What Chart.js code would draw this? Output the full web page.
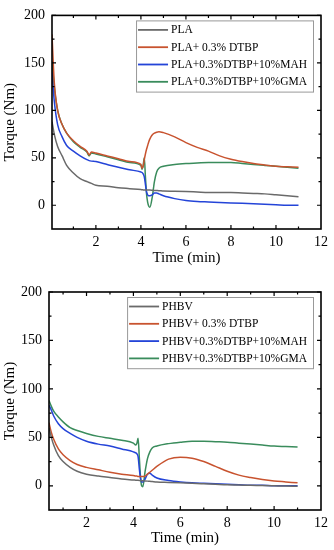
<!DOCTYPE html>
<html>
<head>
<meta charset="utf-8">
<script src="https://cdn.jsdelivr.net/npm/chart.js@4"></script>
<style>
  html, body { margin: 0; padding: 0; background: #fff; }
  canvas { display: block; }
</style>
</head>
<body>
<canvas id="chartPLA" width="334" height="275"></canvas>
<canvas id="chartPHBV" width="334" height="275"></canvas>
<script>
// time axis (min) for the PLA panel
const tA = [0.05, 0.15, 0.3, 0.5, 0.7, 1, 1.3, 1.6, 1.7, 1.8,
            2, 2.5, 3, 3.5, 4, 4.05, 4.1, 4.15, 4.2, 4.25,
            4.3, 4.35, 4.4, 4.5, 4.6, 4.7, 4.8, 5, 5.5, 6,
            6.5, 7, 7.5, 8, 8.5, 9, 9.5, 10, 10.5, 11];
const plaNeat = [88, 75, 62, 52, 42, 34, 28, 25, 24, 23,
                 21, 20, 18.5, 17.5, 16.5, 16.3, 16.2, 16.1, 16, 16,
                 16, 16, 16, 15.8, 15.6, 15.5, 15.4, 15, 14.8, 14.5,
                 14, 13.5, 13.5, 13.5, 13, 12.5, 12, 11, 10, 9];
const plaDtbp = [180, 130, 100, 85, 76, 68, 62, 57, 53, 56,
                 55, 52, 49, 46, 43, 39, 41, 48, 54, 59,
                 63, 67, 70, 74, 76, 77, 77.5, 76.5, 72, 66,
                 61, 57, 52, 48.5, 46, 44, 42.5, 41, 40.5, 40];
const plaMah = [140, 110, 85, 72, 63, 57, 52, 48, 47, 46.5,
                46, 43, 40, 37.5, 35, 34.5, 33, 30, 22, 14,
                11, 10, 10, 11, 13, 13, 12, 10, 7, 5,
                4, 3.5, 3, 2.5, 2, 1.5, 1, 0.5, 0, 0];
const plaGma = [152, 125, 100, 85, 76, 67, 61, 56, 52, 55,
                54, 51, 48, 45, 42, 38, 42, 50, 30, 12,
                3, -1, -2, 8, 25, 35, 39, 41, 43, 44,
                44.5, 45, 45, 45, 44, 43, 42, 41, 40, 39];
const plaLabels = ['PLA', 'PLA+ 0.3% DTBP', 'PLA+0.3%DTBP+10%MAH', 'PLA+0.3%DTBP+10%GMA'];

// time axis (min) for the PHBV panel
const tB = [0.4, 0.5, 0.6, 0.8, 1, 1.3, 1.6, 2, 2.5, 3,
            3.5, 4, 4.1, 4.15, 4.2, 4.25, 4.3, 4.35, 4.4, 4.5,
            4.6, 4.7, 4.8, 5, 5.5, 6, 6.5, 7, 7.5, 8,
            8.5, 9, 9.5, 10, 10.5, 11];
const phbvNeat = [60, 50, 42, 31, 25, 19, 15, 12, 10, 8.5,
                  7, 6, 5.8, 5.7, 5.6, 5.5, 5.4, 5.3, 5.2, 5,
                  4.8, 4.6, 4.4, 4, 3.5, 3, 2.5, 2, 1.5, 1,
                  0.8, 0.5, 0.3, 0, -0.3, -0.5];
const phbvDtbp = [65, 55, 48, 38, 32, 26, 22, 19, 16.5, 14,
                  12, 10.5, 10, 10, 9.5, 9.5, 9.5, 9.5, 9.5, 10,
                  12, 14, 16, 20, 27.5, 29.5, 28.5, 25, 20, 15,
                  11, 8.5, 6.5, 5, 4, 3];
const phbvMah = [83, 78, 72, 64, 59, 54, 50, 46, 43, 41,
                 38, 35, 34, 33, 30, 18, 8, 4, 4, 7,
                 12, 13, 11, 8, 5.5, 4, 3, 2.5, 2, 1.5,
                 1, 0.5, 0.5, 0, 0, 0];
const phbvGma = [88, 82, 77, 71, 66, 60, 57, 54, 51, 49,
                 47, 44, 42, 44, 49, 30, 10, 0, -1, 15,
                 28, 35, 39, 41, 43.5, 45, 46, 46, 45.5, 45,
                 44, 43, 42, 41, 40.5, 40];
const phbvLabels = ['PHBV', 'PHBV+ 0.3% DTBP', 'PHBV+0.3%DTBP+10%MAH', 'PHBV+0.3%DTBP+10%GMA'];

// axis ticks
const xTicks = [2, 4, 6, 8, 10, 12];
const xMinor = [1, 3, 5, 7, 9, 11];
const yTicks = [0, 50, 100, 150, 200];
const yMinor = [25, 75, 125, 175];

const colors = ['#6a6a6a', '#c8532f', '#2444d8', '#3a8c5c'];
const FONT = "'Liberation Serif', 'Times New Roman', serif";

// frame with inward ticks on all four sides
const framePlugin = {
    id: 'frame',
    afterDraw(chart) {
        const { ctx, chartArea: a, scales } = chart;
        ctx.save();
        ctx.strokeStyle = '#000';
        ctx.lineWidth = 1.2;
        const tick = (vals, len) => {
            vals.forEach(v => {
                const x = scales.x.getPixelForValue(v);
                if (x > a.left + 1 && x < a.right - 1) {
                    ctx.moveTo(x, a.bottom); ctx.lineTo(x, a.bottom - len);
                    ctx.moveTo(x, a.top); ctx.lineTo(x, a.top + len);
                }
            });
        };
        const ytick = (vals, len) => {
            vals.forEach(v => {
                const y = scales.y.getPixelForValue(v);
                ctx.moveTo(a.left, y); ctx.lineTo(a.left + len, y);
                ctx.moveTo(a.right, y); ctx.lineTo(a.right - len, y);
            });
        };
        ctx.beginPath();
        tick(xTicks, 4); tick(xMinor, 2.5);
        ytick(yTicks, 4); ytick(yMinor, 2.5);
        ctx.stroke();
        ctx.lineWidth = 1.6;
        ctx.strokeRect(a.left, a.top, a.right - a.left, a.bottom - a.top);
        ctx.restore();
    }
};

// legend box in the upper right of the plot
const boxLegend = {
    id: 'boxLegend',
    afterDatasetsDraw(chart, args, opts) {
        const { ctx, chartArea: a } = chart;
        ctx.save();
        ctx.font = '11.5px ' + FONT;
        const sets = chart.data.datasets;
        const textW = Math.max(...sets.map(d => ctx.measureText(d.label).width));
        const lineLen = 30, rowH = 17.3;
        const w = 2 + lineLen + 3 + textW + 6;
        const h = rowH * sets.length + 2;
        const x0 = a.right - opts.right - w, y0 = a.top + opts.top;
        ctx.fillStyle = '#fff';
        ctx.fillRect(x0, y0, w, h);
        ctx.strokeStyle = '#999';
        ctx.lineWidth = 1;
        ctx.strokeRect(x0 + 0.5, y0 + 0.5, w, h);
        sets.forEach((d, i) => {
            const y = y0 + 9.5 + i * rowH;
            ctx.strokeStyle = d.borderColor;
            ctx.lineWidth = 1.8;
            ctx.beginPath();
            ctx.moveTo(x0 + 2, y); ctx.lineTo(x0 + 2 + lineLen, y);
            ctx.stroke();
            ctx.fillStyle = '#000';
            ctx.textBaseline = 'middle';
            ctx.fillText(d.label, x0 + 2 + lineLen + 3, y + 0.5);
        });
        ctx.restore();
    }
};

function makeChart(id, times, series, labels, xMin, dims) {
    const datasets = series.map((vals, i) => ({
        label: labels[i],
        data: vals.map((v, j) => ({ x: times[j], y: v })),
        borderColor: colors[i],
        borderWidth: 1.5,
        pointRadius: 0,
        cubicInterpolationMode: 'monotone'
    }));
    return new Chart(document.getElementById(id), {
        type: 'line',
        data: { datasets },
        options: {
            responsive: false,
            animation: false,
            devicePixelRatio: 1,
            layout: { padding: { left: 0, right: dims.right, top: dims.top, bottom: 0 } },
            plugins: {
                legend: { display: false },
                tooltip: { enabled: false },
                boxLegend: { right: 8, top: dims.legendTop }
            },
            scales: {
                x: {
                    type: 'linear',
                    min: xMin,
                    max: 12,
                    grid: { display: false, drawTicks: false },
                    border: { display: false },
                    afterBuildTicks: s => { s.ticks = xTicks.map(v => ({ value: v })); },
                    afterFit: s => { s.height = dims.xHeight; },
                    ticks: { color: '#000', padding: 5, font: { family: FONT, size: 14 }, maxRotation: 0 },
                    title: { display: true, text: 'Time (min)', color: '#000', padding: { top: 0, bottom: dims.xTitleBottom },
                             font: { family: FONT, size: 15 } }
                },
                y: {
                    min: -25,
                    max: 200,
                    grid: { display: false, drawTicks: false },
                    border: { display: false },
                    afterBuildTicks: s => { s.ticks = yTicks.map(v => ({ value: v })); },
                    afterFit: s => { s.width = dims.left; },
                    ticks: { color: '#000', padding: 7, font: { family: FONT, size: 14 } },
                    title: { display: true, text: 'Torque (Nm)', color: '#000', padding: { top: 1, bottom: 0 },
                             font: { family: FONT, size: 15 } }
                }
            }
        },
        plugins: [framePlugin, boxLegend]
    });
}

makeChart('chartPLA', tA, [plaNeat, plaDtbp, plaMah, plaGma], plaLabels, 0.05,
          { left: 52, right: 13, top: 12, xHeight: 46, xTitleBottom: 8, legendTop: 5 });
makeChart('chartPHBV', tB, [phbvNeat, phbvDtbp, phbvMah, phbvGma], phbvLabels, 0.4,
          { left: 49, right: 13, top: 17, xHeight: 40, xTitleBottom: 3, legendTop: 5 });
</script>
</body>
</html>
